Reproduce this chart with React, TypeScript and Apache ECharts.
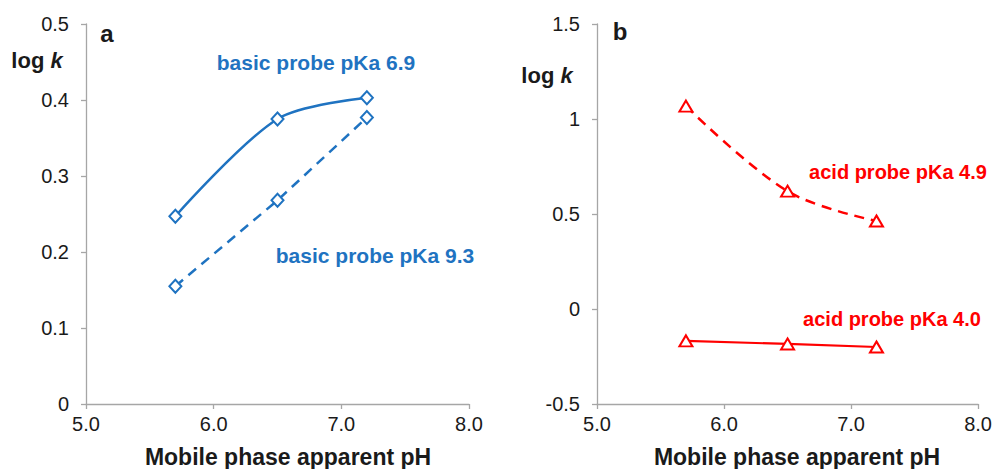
import React, { useEffect, useRef } from "react";
import * as echarts from "echarts";

const pH = [5.7, 6.5, 7.2];
const basic69 = [0.247, 0.375, 0.403];
const basic93 = [0.155, 0.268, 0.377];
const acid49 = [1.068, 0.62, 0.463];
const acid40 = [-0.168, -0.184, -0.2];

const xTicks = { min: 5, max: 8, interval: 1 };
const yTicksA = { min: 0, max: 0.5, interval: 0.1 };
const yTicksB = { min: -0.5, max: 1.5, interval: 0.5 };

const BLUE = "#1f73c1";
const RED = "#ff0000";
const AXIS = "#a6a6a6";
const TXT = "#1a1a1a";
const FONT = "Liberation Sans, Arial, sans-serif";

const pair = (xs: number[], ys: number[]) => xs.map((x, i) => [x, ys[i]]);

export default function App() {
  const ref = useRef<HTMLDivElement>(null);
  useEffect(() => {
    if (!ref.current) return;
    const chart = echarts.init(ref.current, null, { renderer: "svg" });
    const xAxisBase = (gridIndex: number) => ({
      type: "value",
      gridIndex,
      min: xTicks.min,
      max: xTicks.max,
      interval: xTicks.interval,
      axisLine: { show: true, onZero: false, lineStyle: { color: AXIS, width: 1.3 } },
      axisTick: { show: true, length: 5, lineStyle: { color: AXIS, width: 1.3 } },
      splitLine: { show: false },
      axisLabel: {
        margin: 10,
        fontSize: 20,
        color: TXT,
        fontFamily: FONT,
        formatter: (v: number) => v.toFixed(1),
      },
    });
    const yAxisBase = (gridIndex: number, t: any) => ({
      type: "value",
      gridIndex,
      min: t.min,
      max: t.max,
      interval: t.interval,
      axisLine: { show: true, onZero: false, lineStyle: { color: AXIS, width: 1.3 } },
      axisTick: { show: true, length: 5, lineStyle: { color: AXIS, width: 1.3 } },
      splitLine: { show: false },
      axisLabel: { margin: 17, fontSize: 20, color: TXT, fontFamily: FONT },
    });
    const diamond = {
      symbol: "diamond",
      symbolSize: [12, 13],
      itemStyle: { color: "#fff", borderColor: BLUE, borderWidth: 2 },
    };
    const tri = {
      symbol: "triangle",
      symbolSize: [13, 11],
      itemStyle: { color: "#fff", borderColor: RED, borderWidth: 2 },
    };
    const label = (text: string, x: number, y: number, color: string, size = 21) => ({
      type: "text",
      x,
      y,
      style: {
        text,
        fill: color,
        font: `bold ${size}px ${FONT}`,
        textAlign: "center",
        textVerticalAlign: "middle",
      },
    });
    const logk = (x: number, y: number) => ({
      type: "text",
      x,
      y,
      style: {
        text: "{a|log }{b|k}",
        textAlign: "center",
        textVerticalAlign: "middle",
        rich: {
          a: { fontWeight: "bold", fontSize: 22, fontFamily: FONT, fill: TXT },
          b: { fontWeight: "bold", fontStyle: "italic", fontSize: 22, fontFamily: FONT, fill: TXT },
        },
      },
    });
    chart.setOption({
      animation: false,
      grid: [
        { left: 86, top: 24, width: 383, height: 380 },
        { left: 597, top: 24, width: 383, height: 380 },
      ],
      xAxis: [xAxisBase(0), xAxisBase(1)],
      yAxis: [yAxisBase(0, yTicksA), yAxisBase(1, yTicksB)],
      series: [
        {
          type: "line",
          xAxisIndex: 0,
          yAxisIndex: 0,
          data: pair(pH, basic69),
          smooth: 0.3,
          lineStyle: { color: BLUE, width: 2.5 },
          ...diamond,
        },
        {
          type: "line",
          xAxisIndex: 0,
          yAxisIndex: 0,
          data: pair(pH, basic93),
          lineStyle: { color: BLUE, width: 2.5, type: [10, 7] },
          ...diamond,
        },
        {
          type: "line",
          xAxisIndex: 1,
          yAxisIndex: 1,
          data: pair(pH, acid49),
          smooth: 0.35,
          lineStyle: { color: RED, width: 2.5, type: [10, 7] },
          ...tri,
        },
        {
          type: "line",
          xAxisIndex: 1,
          yAxisIndex: 1,
          data: pair(pH, acid40),
          lineStyle: { color: RED, width: 2.2 },
          ...tri,
        },
      ],
      graphic: [
        label("basic probe pKa 6.9", 316, 62, BLUE),
        label("basic probe pKa 9.3", 375, 255, BLUE),
        label("acid probe pKa 4.9", 898, 172, RED, 20),
        label("acid probe pKa 4.0", 892, 319, RED, 20),
        logk(37, 60),
        logk(547, 75),
        label("a", 107, 33, TXT, 24),
        label("b", 620, 31, TXT, 24),
        label("Mobile phase apparent pH", 288, 457, TXT, 23),
        label("Mobile phase apparent pH", 797, 457, TXT, 23),
      ],
    });
    return () => chart.dispose();
  }, []);
  return (
    <div
      ref={ref}
      style={{ position: "fixed", left: 0, top: 0, width: 995, height: 469, background: "#fff" }}
    />
  );
}
